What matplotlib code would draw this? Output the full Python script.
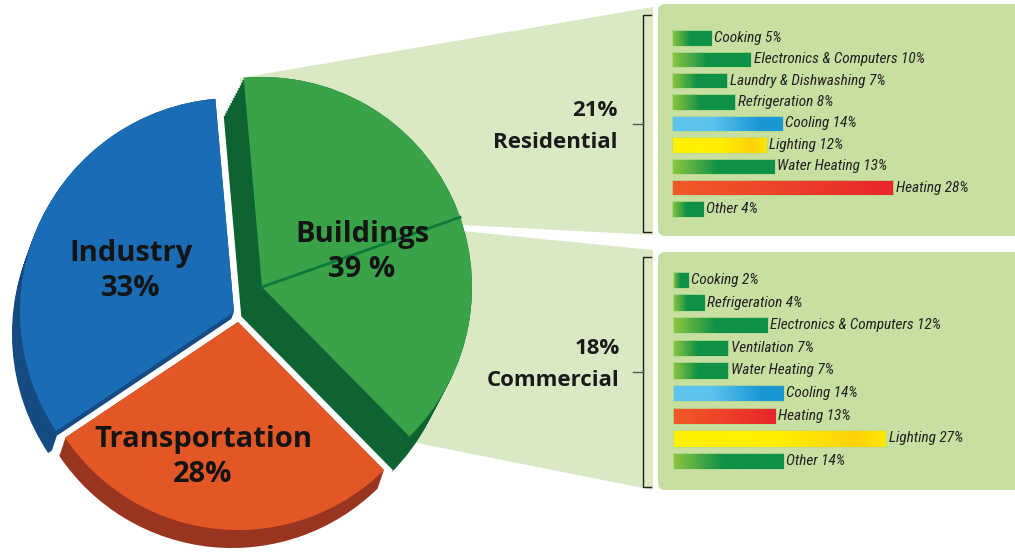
import numpy as np
import matplotlib.pyplot as plt
from matplotlib.patches import Wedge, Polygon, FancyBboxPatch
from matplotlib.colors import LinearSegmentedColormap

W, H = 1015, 553

# pie data (clockwise from the top)
sectors = ['Buildings', 'Transportation', 'Industry']
sector_pct = [39, 28, 33]
sector_text = ['Buildings\n39 %', 'Transportation\n28%', 'Industry\n33%']
building_split = [21, 18]  # residential, commercial

res_labels = ['Cooking', 'Electronics & Computers', 'Laundry & Dishwashing',
              'Refrigeration', 'Cooling', 'Lighting', 'Water Heating',
              'Heating', 'Other']
res_pct = [5, 10, 7, 8, 14, 12, 13, 28, 4]

com_labels = ['Cooking', 'Refrigeration', 'Electronics & Computers',
              'Ventilation', 'Water Heating', 'Cooling', 'Heating',
              'Lighting', 'Other']
com_pct = [2, 4, 12, 7, 7, 14, 13, 27, 14]

top_col = {'Buildings': '#3aa249', 'Transportation': '#e35727', 'Industry': '#1a6cb4'}
side_col = {'Buildings': '#0e6332', 'Transportation': '#98341f', 'Industry': '#164a82'}
# centre (px), radius, depth (px) of each slab
geom = {'Buildings': ((262, 287), 210, (-20, 38)),
        'Transportation': ((238, 322), 208, (-6, 18)),
        'Industry': ((234, 312), 214, (-8, 22))}
label_pos = {'Buildings': (362, 252), 'Transportation': (203, 457), 'Industry': (131, 271)}

cmaps = {
    'green': LinearSegmentedColormap.from_list('g', [(0, '#8dc63f'), (0.45, '#0f9147'), (1, '#0f9147')]),
    'blue': LinearSegmentedColormap.from_list('b', [(0, '#5cc4ef'), (0.35, '#5bc3ee'), (0.8, '#1b97d4'), (1, '#1b97d4')]),
    'yellow': LinearSegmentedColormap.from_list('y', [(0, '#fff200'), (0.5, '#ffee00'), (0.85, '#fdd20a'), (1, '#ffe800')]),
    'red': LinearSegmentedColormap.from_list('r', [(0, '#f15a29'), (0.5, '#ee4129'), (1, '#e7262c')]),
}
use_col = {'Cooling': 'blue', 'Lighting': 'yellow', 'Heating': 'red'}

label_font = ['Open Sans', 'DejaVu Sans']
bar_font = ['Roboto Condensed', 'Liberation Sans Narrow', 'Roboto', 'DejaVu Sans']


def py(y):
    return H - y


fig = plt.figure(figsize=(W / 100, H / 100), dpi=100)
ax = fig.add_axes([0, 0, 1, 1])
ax.set_xlim(0, W)
ax.set_ylim(0, H)
ax.axis('off')

# callouts and panels
call_col = '#d9e9c3'
panel_col = '#c7e0a1'
ax.add_patch(Polygon([(240, py(78)), (653, py(7)), (653, py(235)), (462, py(225)), (262, py(287))],
                     closed=True, fc=call_col, ec='none', zorder=3.05))
ax.add_patch(Polygon([(462, py(231)), (653, py(250)), (653, py(490)), (417, py(443)), (262, py(290))],
                     closed=True, fc=call_col, ec='none', zorder=3.05))
ax.add_patch(FancyBboxPatch((661, py(233)), 370, 226, boxstyle='round,pad=3,rounding_size=7',
                            fc=panel_col, ec='none', zorder=1))
ax.add_patch(FancyBboxPatch((661, py(487)), 370, 232, boxstyle='round,pad=3,rounding_size=7',
                            fc=panel_col, ec='none', zorder=1))

# brackets
for top, bot, mid in [(15, 232, 124), (257, 487, 372)]:
    ax.plot([651, 643, 643, 651], [py(top), py(top), py(bot), py(bot)], color='#231f20', lw=1, zorder=3.06)
    ax.plot([633, 643], [py(mid), py(mid)], color='#555555', lw=1, zorder=3.06)

for txt, x, y in [(f'{building_split[0]}%', 618, 110), ('Residential', 618, 143),
                  (f'{building_split[1]}%', 620, 349), ('Commercial', 620, 380)]:
    ax.text(x, py(y), txt, ha='right', va='center', fontsize=16, fontweight='bold',
            family=label_font, color='#1a1a1a', zorder=3.07)

# exploded 3d pie
angles = {}
a = 95.0
for name, v in zip(sectors, sector_pct):
    span = 360.0 * v / sum(sector_pct)
    angles[name] = (a - span, a)
    a -= span

z = 3
for name in ['Buildings', 'Industry', 'Transportation']:
    (cx, cy), r, (dx, dy) = geom[name]
    t1, t2 = angles[name]
    steps = np.linspace(1, 0, 16)
    for s in steps:
        ax.add_patch(Wedge((cx + s * dx, py(cy + s * dy)), r, t1, t2, fc='white', ec='white', lw=9, zorder=z))
    for s in steps:
        ax.add_patch(Wedge((cx + s * dx, py(cy + s * dy)), r, t1, t2, fc=side_col[name], ec='none', zorder=z + 0.1))
    ax.add_patch(Wedge((cx, py(cy)), r, t1, t2, fc=top_col[name], ec='none', zorder=z + 0.2))
    if name == 'Buildings':
        ts = t2 - (t2 - t1) * building_split[0] / sum(building_split)
        ax.plot([cx, cx + r * np.cos(np.radians(ts))], [py(cy), py(cy) + r * np.sin(np.radians(ts))],
                color='#0e7a3a', lw=2, zorder=z + 0.3)
    lx, ly = label_pos[name]
    ax.text(lx, py(ly), sector_text[sectors.index(name)], ha='center', va='center',
            fontsize=21, fontweight='bold', family=label_font, color='#141414',
            linespacing=1.25, zorder=z + 0.4)
    z += 1

# bar panels
SCALE = 7.9  # px per percent


def bar_panel(labels, vals, x0, y_first, y_last):
    n = len(vals)
    step = (y_last - y_first) / (n - 1)
    top = y_first - step / 2
    bot = y_last + step / 2
    bx = fig.add_axes([x0 / W, 1 - bot / H, (W - x0) / W, (bot - top) / H])
    bx.patch.set_alpha(0)
    bars = bx.barh(range(n), vals, height=0.72, color='none', edgecolor='#b9da8f', lw=0.6, zorder=3)
    grad = np.linspace(0, 1, 256).reshape(1, -1)
    for i, (b, lab, v) in enumerate(zip(bars, labels, vals)):
        x, y, w, h = b.get_x(), b.get_y(), b.get_width(), b.get_height()
        im = bx.imshow(grad, extent=[x, x + w, y + h, y], cmap=cmaps[use_col.get(lab, 'green')],
                       aspect='auto', zorder=2)
        im.set_clip_path(b)
        bx.text(v + 2.5 / SCALE, i, f'{lab} {v}%', ha='left', va='center', fontsize=11,
                style='italic', family=bar_font, color='#231f20')
    bx.set_xlim(0, (W - x0) / SCALE)
    bx.set_ylim(n - 0.5, -0.5)
    bx.axis('off')


bar_panel(res_labels, res_pct, 672, 38, 209)
bar_panel(com_labels, com_pct, 673, 280, 461)

fig.savefig('out.png', dpi=100)
